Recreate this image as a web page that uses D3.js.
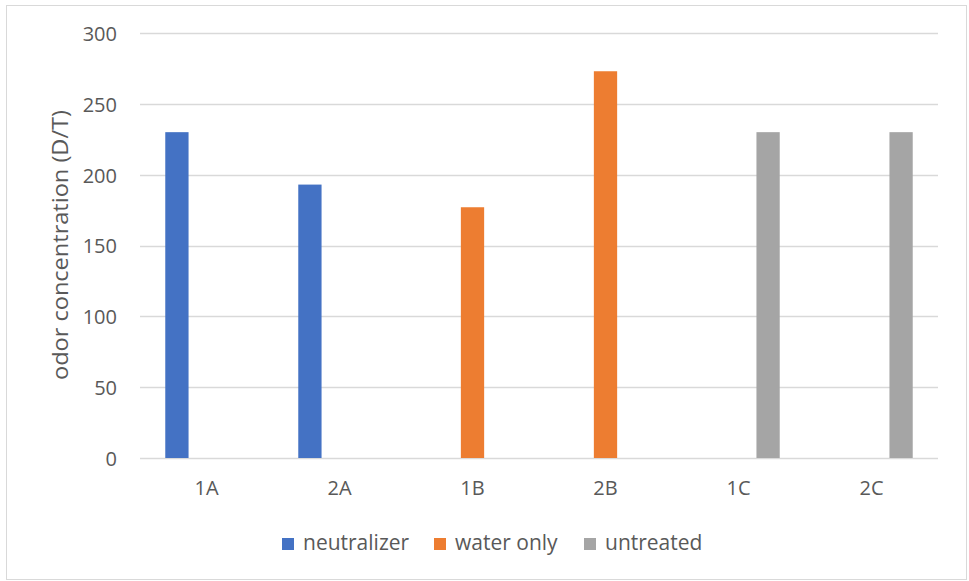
<!DOCTYPE html>
<html>
<head>
<meta charset="utf-8">
<script src="https://cdn.jsdelivr.net/npm/d3@7"></script>
<style>
  html, body { margin: 0; padding: 0; background: #fff; }
  svg { display: block; }
  text { font-family: "Open Sans", "Liberation Sans", sans-serif; fill: #595959; }
</style>
</head>
<body>
<svg id="chart" width="969" height="581"></svg>
<script>
// Odor concentration per sample, one array per treatment
const categories = ["1A", "2A", "1B", "2B", "1C", "2C"];
const seriesNames = ["neutralizer", "water only", "untreated"];
const neutralizer = [230, 193, 0, 0, 0, 0];
const waterOnly   = [0, 0, 177, 273, 0, 0];
const untreated   = [0, 0, 0, 0, 230, 230];
const yTicks = [0, 50, 100, 150, 200, 250, 300];
const colors = ["#4472c4", "#ed7d31", "#a5a5a5"];

const seriesValues = [neutralizer, waterOnly, untreated];
const rows = categories.map((c, i) => ({
  category: c,
  values: seriesNames.map((s, j) => ({ series: s, value: seriesValues[j][i] }))
}));

const svg = d3.select("#chart");
const plot = { left: 140, right: 938, top: 33, bottom: 458 };
const fontStack = "'Open Sans', 'Liberation Sans', sans-serif";

// Chart frame
svg.append("rect")
  .attr("x", 6.5).attr("y", 5.5)
  .attr("width", 960).attr("height", 574)
  .attr("fill", "#fff").attr("stroke", "#d9d9d9").attr("stroke-width", 1);

const x = d3.scaleBand().domain(categories)
  .range([plot.left, plot.right]).paddingInner(0.38).paddingOuter(0.19);
const x1 = d3.scaleBand().domain(seriesNames)
  .range([0, x.bandwidth()]).paddingInner(0.213);
const y = d3.scaleLinear().domain([0, 300]).range([plot.bottom, plot.top]);

// Horizontal gridlines
svg.append("g").selectAll("line").data(yTicks).join("line")
  .attr("x1", plot.left).attr("x2", plot.right)
  .attr("y1", d => Math.round(y(d)) + 0.5).attr("y2", d => Math.round(y(d)) + 0.5)
  .attr("stroke", "#d9d9d9").attr("stroke-width", 1.3);

// Y axis tick labels
const yAxis = svg.append("g")
  .attr("transform", `translate(${plot.left - 23},1)`)
  .call(d3.axisLeft(y).tickValues(yTicks).tickSize(0).tickPadding(0));
yAxis.select(".domain").remove();
yAxis.selectAll("text")
  .style("font-size", "20px")
  .style("font-family", fontStack)
  .attr("fill", "#595959");

// Bars
const groups = svg.append("g").selectAll("g").data(rows).join("g")
  .attr("transform", d => `translate(${x(d.category)},0)`);
groups.selectAll("rect").data(d => d.values.filter(v => v.value > 0)).join("rect")
  .attr("x", d => x1(d.series))
  .attr("width", x1.bandwidth())
  .attr("y", d => y(d.value))
  .attr("height", d => y(0) - y(d.value))
  .attr("fill", d => colors[seriesNames.indexOf(d.series)]);

// X axis category labels
const xAxis = svg.append("g")
  .attr("transform", `translate(0,${plot.bottom + 23})`)
  .call(d3.axisBottom(x).tickSize(0).tickPadding(0));
xAxis.select(".domain").remove();
xAxis.selectAll("text")
  .style("font-size", "20px")
  .style("font-family", fontStack)
  .attr("fill", "#595959");

// Y axis title
svg.append("text")
  .attr("transform", `translate(68,${(110 + 380) / 2}) rotate(-90)`)
  .attr("text-anchor", "middle")
  .attr("textLength", 270)
  .attr("lengthAdjust", "spacingAndGlyphs")
  .style("font-size", "22px")
  .text("odor concentration (D/T)");

// Legend
const legendX = [282, 434, 584];
const legend = svg.append("g").selectAll("g").data(seriesNames).join("g")
  .attr("transform", (d, i) => `translate(${legendX[i]},538)`);
legend.append("rect")
  .attr("width", 12).attr("height", 12)
  .attr("fill", (d, i) => colors[i]);
legend.append("text")
  .attr("x", 21).attr("y", 12)
  .style("font-size", "21px")
  .text(d => d);
</script>
</body>
</html>
